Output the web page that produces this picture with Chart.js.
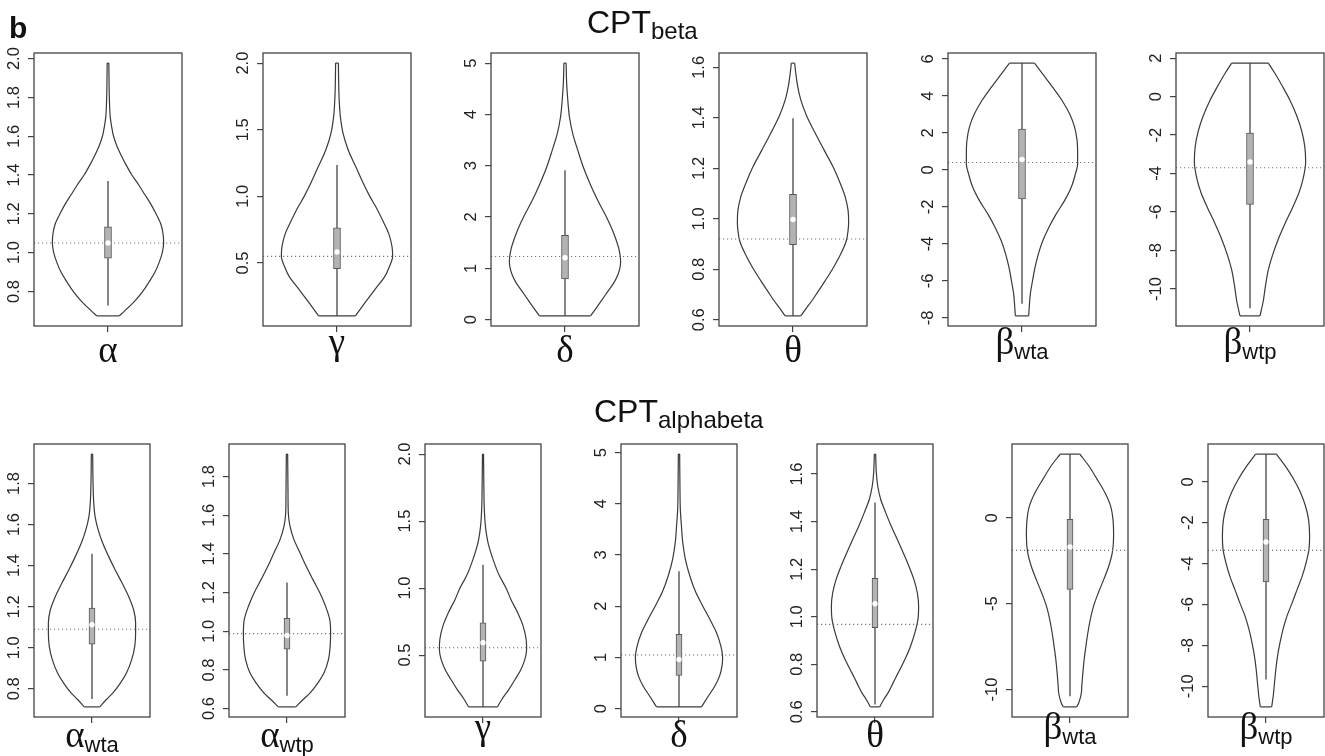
<!DOCTYPE html>
<html><head><meta charset="utf-8">
<script src="https://cdn.jsdelivr.net/npm/chart.js@4.4.1/dist/chart.umd.min.js"></script>
<style>
html,body{margin:0;padding:0;background:#fff;}
body{width:1325px;height:756px;position:relative;overflow:hidden;font-family:"Liberation Sans",Arial,sans-serif;}
canvas{position:absolute;}
.t{position:absolute;white-space:nowrap;color:#111;}
</style></head><body>
<script>
// ===== DATA =====
// Violin outlines: y = parameter level, w = relative half-width (max = 1)
// CPT_beta row
const b_alpha_y = [0.674,0.70,0.75,0.80,0.85,0.90,0.95,1.00,1.05,1.10,1.15,1.20,1.25,1.30,1.35,1.40,1.45,1.50,1.55,1.60,1.65,1.70,1.80,1.90,1.977];
const b_alpha_w = [0.20,0.30,0.48,0.625,0.74,0.845,0.92,0.976,1.0,0.988,0.946,0.863,0.77,0.66,0.55,0.43,0.33,0.24,0.16,0.10,0.065,0.04,0.024,0.018,0.015];
const b_gamma_y = [0.103,0.2,0.3,0.4,0.47,0.55,0.62,0.72,0.82,0.92,1.0,1.1,1.22,1.35,1.47,1.6,1.72,1.85,2.0];
const b_gamma_w = [0.33,0.50,0.68,0.86,0.94,1.0,0.99,0.93,0.82,0.70,0.59,0.47,0.34,0.20,0.11,0.06,0.04,0.03,0.025];
const b_delta_y = [0.072,0.2,0.37,0.55,0.72,0.89,1.0,1.12,1.35,1.67,2.0,2.32,2.65,2.97,3.3,3.62,3.95,4.28,4.6,5.0];
const b_delta_w = [0.46,0.545,0.655,0.77,0.88,0.955,0.985,1.0,0.975,0.88,0.745,0.59,0.45,0.33,0.23,0.14,0.08,0.05,0.03,0.02];
const b_theta_y = [0.615,0.649,0.675,0.715,0.755,0.808,0.861,0.914,0.954,0.987,1.033,1.086,1.14,1.206,1.272,1.339,1.405,1.471,1.524,1.577,1.617];
const b_theta_w = [0.14,0.25,0.34,0.46,0.58,0.73,0.86,0.96,0.99,1.0,0.99,0.94,0.85,0.72,0.56,0.40,0.25,0.14,0.085,0.05,0.03];
const b_bwta_y = [-7.89,-7.42,-6.7,-5.98,-5.26,-4.54,-3.82,-3.1,-2.38,-1.66,-0.94,-0.22,0.32,0.87,1.59,2.31,3.03,3.75,4.47,5.19,5.77];
const b_bwta_w = [0.12,0.13,0.15,0.19,0.235,0.295,0.375,0.485,0.615,0.765,0.885,0.96,1.0,1.0,0.99,0.945,0.855,0.72,0.55,0.37,0.225];
const b_bwtp_y = [-11.4,-10.6,-9.8,-9.0,-8.2,-7.4,-6.6,-5.8,-5.0,-4.2,-3.4,-2.6,-1.8,-1.0,-0.2,0.6,1.2,1.74];
const b_bwtp_w = [0.18,0.24,0.28,0.33,0.41,0.51,0.63,0.76,0.88,0.96,1.0,0.985,0.93,0.84,0.72,0.57,0.45,0.33];
// CPT_alphabeta row
const ab_awta_y = [0.712,0.748,0.78,0.828,0.877,0.942,1.007,1.072,1.12,1.185,1.25,1.315,1.38,1.445,1.51,1.575,1.64,1.705,1.79,1.943];
const ab_awta_w = [0.18,0.33,0.48,0.65,0.79,0.91,0.98,1.0,1.0,0.955,0.84,0.69,0.53,0.38,0.245,0.14,0.07,0.04,0.025,0.015];
const ab_awtp_y = [0.609,0.647,0.681,0.733,0.785,0.853,0.922,0.991,1.06,1.129,1.198,1.267,1.336,1.405,1.474,1.543,1.612,1.716,1.916];
const ab_awtp_w = [0.2,0.37,0.53,0.71,0.85,0.95,0.99,1.0,0.98,0.885,0.755,0.595,0.44,0.30,0.16,0.07,0.03,0.023,0.015];
const ab_gamma_y = [0.114,0.169,0.243,0.318,0.393,0.468,0.542,0.617,0.717,0.816,0.916,1.0,1.09,1.215,1.34,1.465,1.59,1.76,2.0];
const ab_gamma_w = [0.33,0.43,0.59,0.735,0.87,0.96,1.0,0.99,0.92,0.795,0.64,0.53,0.38,0.23,0.115,0.055,0.03,0.02,0.012];
const ab_delta_y = [0.033,0.24,0.437,0.634,0.83,0.994,1.22,1.48,1.74,2.01,2.27,2.6,2.92,3.25,3.58,3.9,4.22,4.97];
const ab_delta_w = [0.515,0.67,0.82,0.93,0.985,1.0,0.96,0.86,0.71,0.54,0.385,0.245,0.145,0.085,0.055,0.03,0.023,0.015];
const ab_theta_y = [0.621,0.652,0.68,0.722,0.764,0.82,0.876,0.933,0.989,1.045,1.101,1.158,1.214,1.27,1.326,1.382,1.438,1.494,1.551,1.607,1.684];
const ab_theta_w = [0.105,0.2,0.30,0.415,0.53,0.685,0.815,0.915,0.985,1.0,0.97,0.89,0.775,0.645,0.51,0.37,0.245,0.13,0.062,0.03,0.015];
const ab_bwta_y = [-11.01,-10.78,-10.2,-9.81,-9.03,-8.25,-7.47,-6.69,-5.92,-5.14,-4.36,-3.58,-2.8,-2.02,-1.05,-0.08,0.7,1.48,2.26,3.04,3.72];
const ab_bwta_w = [0.155,0.2,0.26,0.27,0.295,0.325,0.365,0.41,0.465,0.54,0.65,0.775,0.89,0.97,1.0,0.985,0.93,0.80,0.62,0.43,0.225];
const ab_bwtp_y = [-11.01,-10.49,-9.84,-9.18,-8.53,-7.88,-7.22,-6.57,-5.92,-5.26,-4.61,-3.95,-3.3,-2.65,-1.83,-1.18,-0.52,0.13,0.78,1.36];
const ab_bwtp_w = [0.13,0.165,0.195,0.225,0.265,0.32,0.39,0.48,0.6,0.715,0.83,0.92,0.985,1.0,0.975,0.905,0.79,0.635,0.44,0.24];

// Box-plot statistics, panel order: top row (6) then bottom row (7)
const whiskerLow  = [0.728, 0.103, 0.072, 0.615, -7.24, -11.0, 0.751, 0.667, 0.114, 0.033, 0.631, -10.39, -9.67];
const whiskerHigh = [1.369, 1.236, 2.91, 1.398, 5.77, 1.74, 1.458, 1.252, 1.174, 2.68, 1.481, 3.72, 1.36];
const boxQ1       = [0.972, 0.457, 0.795, 0.897, -1.57, -5.6, 1.018, 0.908, 0.455, 0.646, 0.954, -4.16, -4.9];
const boxQ3       = [1.133, 0.764, 1.643, 1.097, 2.21, -1.9, 1.193, 1.067, 0.742, 1.449, 1.162, -0.08, -1.83];
const boxMedian   = [1.05, 0.583, 1.206, 0.997, 0.56, -3.4, 1.112, 0.978, 0.592, 0.96, 1.055, -1.69, -2.94];
const refLine     = [1.05, 0.55, 1.23, 0.92, 0.4, -3.7, 1.09, 0.988, 0.555, 1.045, 0.968, -1.89, -3.35];

// Y tick values per panel
const ticks_b_alpha = [0.8,1.0,1.2,1.4,1.6,1.8,2.0];
const ticks_b_gamma = [0.5,1.0,1.5,2.0];
const ticks_b_delta = [0,1,2,3,4,5];
const ticks_b_theta = [0.6,0.8,1.0,1.2,1.4,1.6];
const ticks_b_bwta  = [-8,-6,-4,-2,0,2,4,6];
const ticks_b_bwtp  = [-10,-8,-6,-4,-2,0,2];
const ticks_ab_awta = [0.8,1.0,1.2,1.4,1.6,1.8];
const ticks_ab_awtp = [0.6,0.8,1.0,1.2,1.4,1.6,1.8];
const ticks_ab_gamma = [0.5,1.0,1.5,2.0];
const ticks_ab_delta = [0,1,2,3,4,5];
const ticks_ab_theta = [0.6,0.8,1.0,1.2,1.4,1.6];
const ticks_ab_bwta = [-10,-5,0];
const ticks_ab_bwtp = [-10,-8,-6,-4,-2,0];

// Axis labels
const labelGreek = ["α","γ","δ","θ","β","β","α","α","γ","δ","θ","β","β"];
const labelSub   = ["","","","","wta","wtp","wta","wtp","","","","wta","wtp"];
const rowTitles  = ["CPT","CPT"];
const rowTitleSubs = ["beta","alphabeta"];

// ===== LAYOUT =====
const violinsY = [b_alpha_y,b_gamma_y,b_delta_y,b_theta_y,b_bwta_y,b_bwtp_y,ab_awta_y,ab_awtp_y,ab_gamma_y,ab_delta_y,ab_theta_y,ab_bwta_y,ab_bwtp_y];
const violinsW = [b_alpha_w,b_gamma_w,b_delta_w,b_theta_w,b_bwta_w,b_bwtp_w,ab_awta_w,ab_awtp_w,ab_gamma_w,ab_delta_w,ab_theta_w,ab_bwta_w,ab_bwtp_w];
const tickSets = [ticks_b_alpha,ticks_b_gamma,ticks_b_delta,ticks_b_theta,ticks_b_bwta,ticks_b_bwtp,ticks_ab_awta,ticks_ab_awtp,ticks_ab_gamma,ticks_ab_delta,ticks_ab_theta,ticks_ab_bwta,ticks_ab_bwtp];
const boxes = [];
[34,263,491,719,948,1176].forEach(l=>boxes.push({L:l,T:53,W:148,H:273,row:0}));
[34,229,425,621,817,1012,1208].forEach(l=>boxes.push({L:l,T:444,W:116,H:273,row:1}));

const XR = 1.33;
const TICK_FS = 16.5;
const FONT_SANS = '"Liberation Sans", Arial, sans-serif';
const mctx = document.createElement('canvas').getContext('2d');
mctx.font = TICK_FS + 'px "Liberation Sans"';

const framePlugin = {
  id:'frame',
  afterDraw(chart){
    const {ctx, chartArea:a} = chart;
    ctx.save(); ctx.strokeStyle='#444'; ctx.lineWidth=1.3;
    ctx.strokeRect(a.left, a.top, a.right-a.left, a.bottom-a.top);
    ctx.restore();
  }
};

function fmtFor(ticks){
  const dec = ticks.some(v=>!Number.isInteger(v)) ? 1 : 0;
  return v => v.toFixed(dec);
}

function lineDs(data, extra){
  return Object.assign({type:'scatter', data, showLine:true, pointRadius:0, pointHoverRadius:0,
    borderColor:'#3a3a3a', borderWidth:1.2, tension:0, fill:false}, extra);
}
const smooth = {indexAxis:'y', cubicInterpolationMode:'monotone', tension:0.4};

boxes.forEach((b,i)=>{
  const padL=45, padT=34, padR=6, padB=34;
  const cv = document.createElement('canvas');
  cv.width = b.W+padL+padR; cv.height = b.H+padT+padB;
  cv.style.left=(b.L-padL)+'px'; cv.style.top=(b.T-padT)+'px';
  cv.style.width=cv.width+'px'; cv.style.height=cv.height+'px';
  document.body.appendChild(cv);

  const vy = violinsY[i], vw = violinsW[i], n = vy.length;
  const right = vy.map((y,k)=>({x:vw[k], y}));
  const left  = vy.map((y,k)=>({x:-vw[k], y}));
  const bottom = [{x:-vw[0],y:vy[0]},{x:vw[0],y:vy[0]}];
  const top = [{x:-vw[n-1],y:vy[n-1]},{x:vw[n-1],y:vy[n-1]}];
  const span = vy[n-1]-vy[0];
  const ymin = vy[0]-0.04*span, ymax = vy[n-1]+0.04*span;
  const ticks = tickSets[i];
  const fmt = fmtFor(ticks);
  const widest = Math.max(...ticks.map(v=>mctx.measureText(fmt(v)).width));
  const tpad = 13.5 - widest/2;

  new Chart(cv, {
    type:'scatter',
    data:{datasets:[
      {type:'scatter', data:[{x:0,y:boxMedian[i]}], showLine:false, pointRadius:2.7, pointHoverRadius:2.7,
        pointBackgroundColor:'#ffffff', pointBorderColor:'#ffffff', pointBorderWidth:0, order:0},
      {type:'bar', data:[{x:0,y:[boxQ1[i],boxQ3[i]]}], barThickness: b.row===0?7:6,
        backgroundColor:'#b3b3b3', borderColor:'#555', borderWidth:1, borderSkipped:false, order:1},
      lineDs([{x:0,y:whiskerLow[i]},{x:0,y:whiskerHigh[i]}], {borderWidth:1.3, borderColor:'#444', order:2}),
      lineDs([{x:-XR,y:refLine[i]},{x:XR,y:refLine[i]}], {borderWidth:1.1, borderColor:'#777', borderDash:[1.2,2.8], order:3}),
      lineDs(right, Object.assign({order:4}, smooth)),
      lineDs(left, Object.assign({order:4}, smooth)),
      lineDs(bottom, {order:4}),
      lineDs(top, {order:4})
    ]},
    options:{
      responsive:false, animation:false, devicePixelRatio:1,
      layout:{padding:{left:0, top:padT, right:padR, bottom:0}},
      plugins:{legend:{display:false}, tooltip:{enabled:false}},
      events:[],
      scales:{
        x:{type:'linear', min:-XR, max:XR, position:'bottom', offset:false,
          afterBuildTicks:s=>{s.ticks=[{value:0}];},
          ticks:{display:false},
          grid:{offset:false, drawOnChartArea:false, drawTicks:true, tickLength:6, color:'#444', lineWidth:1.2},
          border:{display:false},
          afterFit:s=>{s.height=padB;}
        },
        y:{type:'linear', min:ymin, max:ymax, position:'left',
          afterBuildTicks:s=>{s.ticks=ticks.map(v=>({value:v}));},
          ticks:{minRotation:90, maxRotation:90, crossAlign:'center', padding:tpad,
            font:{family:FONT_SANS, size:TICK_FS}, color:'#222', callback:v=>fmt(v)},
          grid:{drawOnChartArea:false, drawTicks:true, tickLength:6, color:'#444', lineWidth:1.2},
          border:{display:false},
          afterFit:s=>{s.width=padL;}
        }
      }
    },
    plugins:[framePlugin]
  });

  // x label (real text)
  const cx = b.L + b.W/2;
  const g = labelGreek[i], sub = labelSub[i];
  const fs = 37;
  const desc = (g==='β'||g==='γ');
  const bottomY = b.row===0 ? 362 : 747;
  const baseline = desc ? bottomY-8 : bottomY;
  const d = document.createElement('div');
  d.className='t';
  d.style.fontFamily='"Liberation Serif","Times New Roman",serif';
  d.style.fontSize=fs+'px'; d.style.lineHeight=fs+'px';
  d.style.left=cx+'px'; d.style.top=(baseline-0.8375*fs)+'px';
  d.style.transform='translateX(-50%)';
  d.innerHTML = g + (sub ? '<span style="font-family:'+"'Liberation Sans',Arial,sans-serif"+';font-size:22px;position:relative;top:5px;">'+sub+'</span>' : '');
  document.body.appendChild(d);
});

// Row titles and panel letter
function addTitle(main, sub, left, baseline){
  const fs=32;
  const d=document.createElement('div');
  d.className='t';
  d.style.fontSize=fs+'px'; d.style.lineHeight=fs+'px';
  d.style.left=left+'px'; d.style.top=(baseline-0.8465*fs)+'px';
  d.innerHTML = main+'<span style="font-size:24px;position:relative;top:6px;">'+sub+'</span>';
  document.body.appendChild(d);
}
addTitle(rowTitles[0], rowTitleSubs[0], 587, 33);
addTitle(rowTitles[1], rowTitleSubs[1], 594, 421.7);
const bl=document.createElement('div');
bl.className='t';
bl.style.fontSize='30px'; bl.style.lineHeight='30px'; bl.style.fontWeight='bold';
bl.style.left='9px'; bl.style.top=(38-0.8465*30)+'px';
bl.textContent='b';
document.body.appendChild(bl);
</script></body></html>
